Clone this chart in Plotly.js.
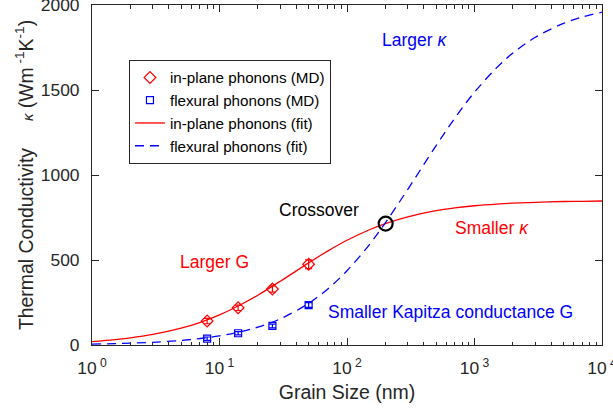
<!DOCTYPE html>
<html><head><meta charset="utf-8">
<script src="https://cdn.plot.ly/plotly-3.0.1.min.js"></script>
<style>body{margin:0;background:#fff}#c{width:613px;height:408px}</style>
</head><body><div id="c"></div>
<script>
// MD data
const mdSize = [8, 14, 26, 50];
const inplaneMD = [141, 219, 329, 475];
const inplaneErr = [16, 16, 18, 26];
const flexuralMD = [37, 69, 112, 235];
const flexuralErr = [10, 10, 11, 14];
// fit curves
const fitSize = [1, 1.5, 2, 3, 5, 7, 10, 15, 20, 30, 50, 70, 100, 150, 200, 300, 500, 700, 1000, 1500, 2000, 3000, 5000, 7000, 10000];
const inplaneFit = [20, 32, 42, 62, 99, 132, 177, 241, 293, 375, 483, 551, 616, 678, 714, 754, 790, 806, 819, 829, 834, 839, 844, 845, 847];
const flexuralFit = [5, 8, 11, 16, 27, 38, 54, 80, 105, 154, 245, 327, 437, 591, 719, 916, 1173, 1334, 1487, 1633, 1717, 1810, 1892, 1929, 1958];
const crossSize = [201];
const crossK = [714];
const majorTicks = [1, 10, 100, 1000, 10000];
const majorLabels = ['10<sup> 0</sup>', '10<sup> 1</sup>', '10<sup> 2</sup>', '10<sup> 3</sup>', '10<sup> 4</sup>'];
const yTicks = [0, 500, 1000, 1500, 2000];

const minorTicks = [];
for (let k = 0; k < 4; k++) for (let m = 2; m <= 9; m++) minorTicks.push(m * Math.pow(10, k));

const font = 'Liberation Sans, Arial, sans-serif';
const axisCol = '#262626';
const traces = [
  {x: mdSize, y: inplaneMD, type: 'scatter', mode: 'markers', name: 'in-plane phonons (MD)',
   marker: {symbol: 'diamond-open', size: 9, color: 'red', line: {width: 1.2, color: 'red'}},
   error_y: {type: 'data', array: inplaneErr, visible: true, color: 'red', thickness: 1.2, width: 3.5}},
  {x: mdSize, y: flexuralMD, type: 'scatter', mode: 'markers', name: 'flexural phonons (MD)',
   marker: {symbol: 'square-open', size: 7, color: 'blue', line: {width: 1.2, color: 'blue'}},
   error_y: {type: 'data', array: flexuralErr, visible: true, color: 'blue', thickness: 1.2, width: 3.5}},
  {x: fitSize, y: inplaneFit, type: 'scatter', mode: 'lines', name: 'in-plane phonons (fit)',
   line: {color: 'red', width: 1.3, shape: 'spline'}},
  {x: fitSize, y: flexuralFit, type: 'scatter', mode: 'lines', name: 'flexural phonons (fit)',
   line: {color: 'blue', width: 1.3, dash: '9px,6px', shape: 'spline'}},
  {x: crossSize, y: crossK, type: 'scatter', mode: 'markers', showlegend: false,
   marker: {symbol: 'circle-open', size: 14, color: 'black', line: {width: 2.2, color: 'black'}}}
];

const ann = (lx, y, text, color) => ({x: lx, y: y, xref: 'x', yref: 'y', text: text, showarrow: false,
  font: {family: font, size: 17.5, color: color}});

const layout = {
  width: 613, height: 408,
  margin: {l: 92, r: 11, t: 5, b: 63},
  paper_bgcolor: '#fff', plot_bgcolor: '#fff',
  font: {family: font, size: 17, color: axisCol},
  showlegend: true,
  legend: {x: 0.0725, y: 0.838, xanchor: 'left', yanchor: 'top', bgcolor: '#fff',
    bordercolor: axisCol, borderwidth: 1, font: {family: font, size: 15.2, color: '#000'},
    tracegroupgap: 0, itemwidth: 30},
  xaxis: {type: 'log', range: [0, 4], tickmode: 'array', tickvals: majorTicks, ticktext: majorLabels,
    ticks: 'inside', ticklen: 7, tickcolor: axisCol, showline: true, linecolor: axisCol, linewidth: 1,
    mirror: 'allticks', showgrid: false, zeroline: false, ticklabeloverflow: 'allow', ticklabelstandoff: 7,
    tickfont: {family: font, size: 17.4, color: axisCol},
    minor: {tickmode: 'array', tickvals: minorTicks, ticks: 'inside', ticklen: 3.5, tickcolor: axisCol, showgrid: false},
    title: {text: 'Grain Size (nm)', font: {family: font, size: 19.5, color: axisCol}, standoff: 8}},
  yaxis: {range: [0, 2000], tickmode: 'array', tickvals: yTicks,
    ticks: 'inside', ticklen: 7, tickcolor: axisCol, showline: true, linecolor: axisCol, linewidth: 1,
    mirror: 'allticks', showgrid: false, zeroline: false, ticklabeloverflow: 'allow', ticklabelstandoff: 8,
    tickfont: {family: font, size: 17.4, color: axisCol},
    title: {text: 'Thermal Conductivity     <i><span style="font-size:15px">κ</span></i> (Wm<sup> -1</sup>K<sup>-1</sup>)', font: {family: font, size: 19.4, color: axisCol}, standoff: 2}},
  annotations: [
    ann(2.533, 1794, 'Larger <i>κ</i>', 'blue'),
    ann(1.78, 794, 'Crossover', 'black'),
    ann(3.137, 688, 'Smaller <i>κ</i>', 'red'),
    ann(0.957, 488, 'Larger G', 'red'),
    ann(2.808, 194, 'Smaller Kapitza conductance G', 'blue')
  ]
};
Plotly.newPlot('c', traces, layout, {staticPlot: true, displayModeBar: false});
</script></body></html>
